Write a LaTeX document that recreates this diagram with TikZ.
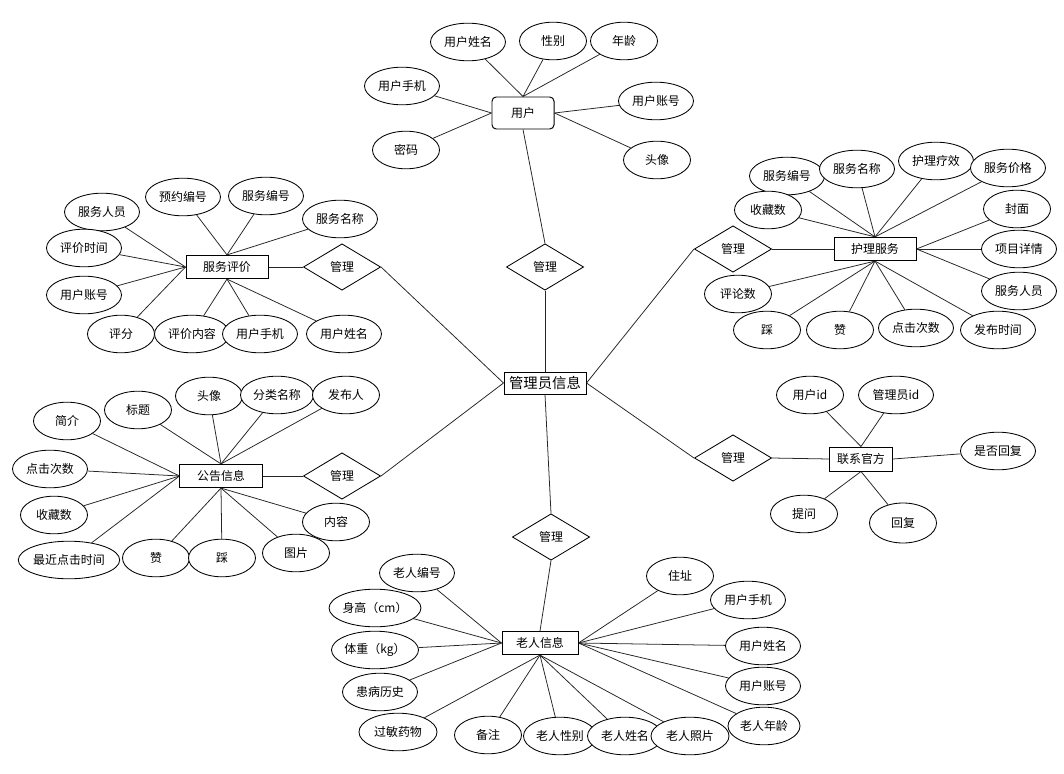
\documentclass[tikz,border=0pt]{standalone}
\usepackage{fontspec}
\setmainfont{Noto Sans CJK SC}
\usetikzlibrary{shapes.geometric, backgrounds}

\tikzset{
  attr/.style={ellipse, draw, fill=white, line width=0.6pt, inner sep=0pt,
    minimum width=1.875cm, minimum height=0.94cm, font=\fontsize{8.5}{10}\selectfont},
  attrs/.style={attr, minimum width=1.675cm},
  ent/.style={rectangle, draw, fill=white, line width=0.7pt, inner sep=0pt,
    minimum width=2.05cm, minimum height=0.58cm, font=\fontsize{8.5}{10}\selectfont},
  rel/.style={diamond, draw, fill=white, line width=0.6pt, inner sep=0pt,
    minimum width=1.93cm, minimum height=1.16cm, font=\fontsize{8.5}{10}\selectfont},
  link/.style={line width=0.55pt, black!85},
}

\begin{document}
\begin{tikzpicture}[x=0.025cm, y=-0.025cm]
  \useasboundingbox (0,0) rectangle (1064,774);

  % centre and the six relations
  \node[ent, minimum height=0.55cm, font=\fontsize{10.2}{12}\selectfont] (gly) at (545,383) {管理员信息};
  \node[rel] (gl1) at (545,267) {管理};
  \node[rel] (gl2) at (342,267) {管理};
  \node[rel] (gl3) at (733,249) {管理};
  \node[rel] (gl4) at (342,476) {管理};
  \node[rel] (gl5) at (733,458) {管理};
  \node[rel] (gl6) at (551,537) {管理};

  % 用户
  \node[ent, rounded corners=3pt, minimum width=1.55cm, minimum height=0.8cm] (yh) at (523,113) {用户};
  \node[attr] (yh1) at (468,42) {用户姓名};
  \node[attrs] (yh2) at (553,41) {性别};
  \node[attrs] (yh3) at (624,41) {年龄};
  \node[attr] (yh4) at (402,86) {用户手机};
  \node[attr] (yh5) at (656,101) {用户账号};
  \node[attrs] (yh6) at (406,150) {密码};
  \node[attrs] (yh7) at (657,160) {头像};

  % 服务评价
  \node[ent] (pj) at (227,267) {服务评价};
  \node[attr] (pj1) at (102,212) {服务人员};
  \node[attr] (pj2) at (183,197) {预约编号};
  \node[attr] (pj3) at (266,196) {服务编号};
  \node[attr] (pj4) at (340,219) {服务名称};
  \node[attr] (pj5) at (84,248) {评价时间};
  \node[attr] (pj6) at (84,295) {用户账号};
  \node[attrs] (pj7) at (121,334) {评分};
  \node[attr] (pj8) at (192,334) {评价内容};
  \node[attr] (pj9) at (260,334) {用户手机};
  \node[attr] (pj10) at (344,334) {用户姓名};

  % 护理服务
  \node[ent] (hl) at (875,249) {护理服务};
  \node[attr] (hl1) at (787,176) {服务编号};
  \node[attr] (hl2) at (857,169) {服务名称};
  \node[attr] (hl3) at (936,161) {护理疗效};
  \node[attr] (hl4) at (1008,168) {服务价格};
  \node[attrs] (hl5) at (768,210) {收藏数};
  \node[attrs] (hl6) at (1017,209) {封面};
  \node[attr] (hl7) at (1019,249) {项目详情};
  \node[attr] (hl8) at (1019,291) {服务人员};
  \node[attrs] (hl9) at (738,294) {评论数};
  \node[attrs] (hl10) at (767,330) {踩};
  \node[attrs] (hl11) at (840,330) {赞};
  \node[attr] (hl12) at (916,328) {点击次数};
  \node[attr] (hl13) at (998,330) {发布时间};

  % 公告信息
  \node[ent] (gg) at (221,476) {公告信息};
  \node[attrs] (gg1) at (67,421) {简介};
  \node[attrs] (gg2) at (138,410) {标题};
  \node[attrs] (gg3) at (209,396) {头像};
  \node[attr, minimum width=1.825cm] (gg4) at (277,395) {分类名称};
  \node[attrs] (gg5) at (346,395) {发布人};
  \node[attr] (gg6) at (50,469) {点击次数};
  \node[attrs] (gg7) at (54,515) {收藏数};
  \node[attr, minimum width=2.475cm] (gg8) at (69,560) {最近点击时间};
  \node[attrs] (gg9) at (156,558) {赞};
  \node[attrs] (gg10) at (222,558) {踩};
  \node[attrs] (gg11) at (296,553) {图片};
  \node[attrs] (gg12) at (336,522) {内容};

  % 联系官方
  \node[ent, minimum width=1.575cm, minimum height=0.6cm] (lx) at (861,459) {联系官方};
  \node[attrs] (lx1) at (810,395) {用户id};
  \node[attr] (lx2) at (896,395) {管理员id};
  \node[attr] (lx3) at (998,451) {是否回复};
  \node[attrs] (lx4) at (804,514) {提问};
  \node[attrs, minimum height=1cm] (lx5) at (903,523) {回复};

  % 老人信息
  \node[ent, minimum width=1.9cm] (lr) at (540,643) {老人信息};
  \node[attr] (lr1) at (417,573) {老人编号};
  \node[attr, minimum width=2.025cm] (lr2) at (375,608) {身高（cm）};
  \node[attr, minimum width=2.175cm] (lr3) at (375,650) {体重（kg）};
  \node[attr] (lr4) at (380,692) {患病历史};
  \node[attr, minimum width=1.95cm] (lr5) at (398,732) {过敏药物};
  \node[attrs] (lr6) at (488,735) {备注};
  \node[attr, minimum width=1.825cm] (lr7) at (560,736) {老人性别};
  \node[attr] (lr8) at (625,736) {老人姓名};
  \node[attr, minimum width=1.95cm] (lr9) at (690,736) {老人照片};
  \node[attrs] (lr10) at (680,576) {住址};
  \node[attr] (lr11) at (748,600) {用户手机};
  \node[attr] (lr12) at (763,646) {用户姓名};
  \node[attr] (lr13) at (763,686) {用户账号};
  \node[attr, minimum width=1.8cm] (lr14) at (764,726) {老人年龄};

  \begin{scope}[on background layer]
    % centre to relations
    \draw[link] (gly.north) -- (gl1.south);
    \draw[link] (gly.west) -- (gl2.east);
    \draw[link] (gly.east) -- (gl3.west);
    \draw[link] (gly.west) -- (gl4.east);
    \draw[link] (gly.east) -- (gl5.west);
    \draw[link] (gly.south) -- (gl6.north);
    % relations to entities
    \draw[link] (yh.south) -- (gl1.north);
    \draw[link] (pj.east) -- (gl2.west);
    \draw[link] (gl3.east) -- (hl.west);
    \draw[link] (gg.east) -- (gl4.west);
    \draw[link] (gl5.east) -- (lx.west);
    \draw[link] (lr.north) -- (gl6.south);
    % attributes
    \foreach \a in {yh1,yh2,yh3} \draw[link] (\a) -- (yh.north);
    \foreach \a in {yh4,yh6} \draw[link] (\a) -- (yh.west);
    \foreach \a in {yh5,yh7} \draw[link] (\a) -- (yh.east);
    \foreach \a in {pj2,pj3,pj4} \draw[link] (\a) -- (pj.north);
    \foreach \a in {pj1,pj5,pj6,pj7} \draw[link] (\a) -- (pj.west);
    \foreach \a in {pj8,pj9,pj10} \draw[link] (\a) -- (pj.south);
    \foreach \a in {hl1,hl2,hl3,hl4,hl5} \draw[link] (\a) -- (hl.north);
    \foreach \a in {hl6,hl7,hl8} \draw[link] (\a) -- (hl.east);
    \foreach \a in {hl9,hl10,hl11,hl12,hl13} \draw[link] (\a) -- (hl.south);
    \foreach \a in {gg2,gg3,gg4,gg5} \draw[link] (\a) -- (gg.north);
    \foreach \a in {gg1,gg6,gg7,gg8} \draw[link] (\a) -- (gg.west);
    \foreach \a in {gg9,gg10,gg11,gg12} \draw[link] (\a) -- (gg.south);
    \foreach \a in {lx1,lx2} \draw[link] (\a) -- (lx.north);
    \draw[link] (lx3) -- (lx.east);
    \foreach \a in {lx4,lx5} \draw[link] (\a) -- (lx.south);
    \foreach \a in {lr1,lr2,lr3,lr4} \draw[link] (\a) -- (lr.west);
    \foreach \a in {lr5,lr6,lr7,lr8,lr9} \draw[link] (\a) -- (lr.south);
    \foreach \a in {lr10,lr11,lr12,lr13,lr14} \draw[link] (\a) -- (lr.east);
  \end{scope}
\end{tikzpicture}
\end{document}
